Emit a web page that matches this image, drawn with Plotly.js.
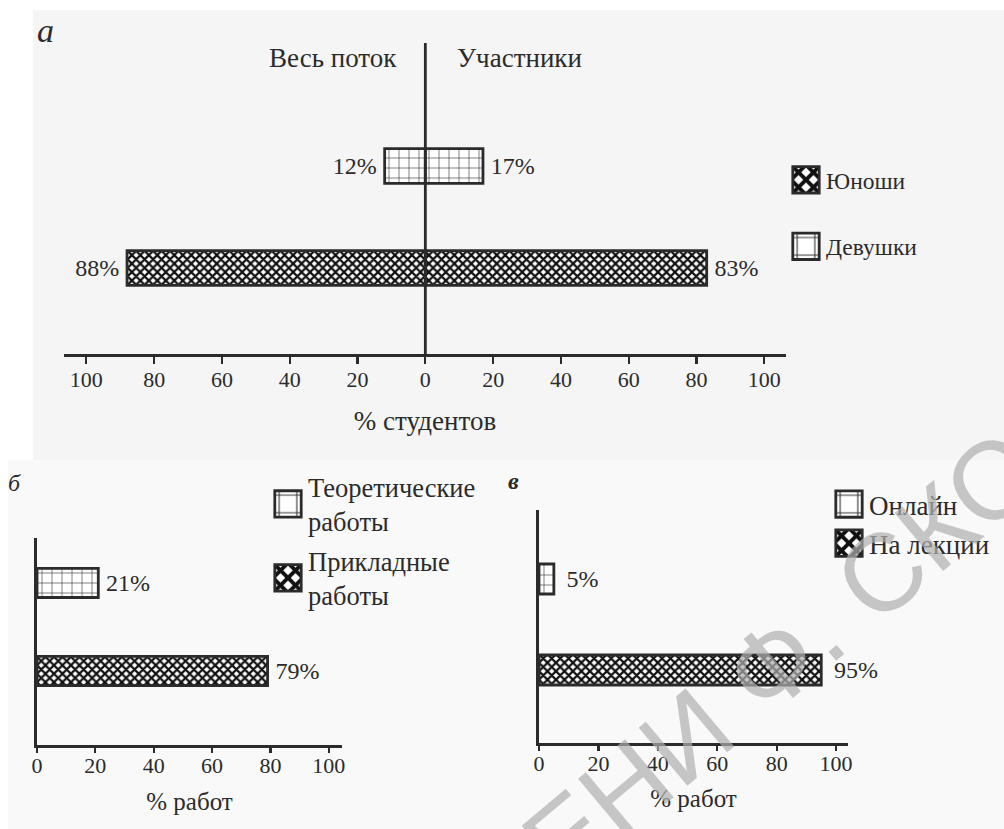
<!DOCTYPE html>
<html>
<head>
<meta charset="utf-8">
<script src="https://cdn.plot.ly/plotly-3.0.1.min.js"></script>
<style>html,body{margin:0;padding:0;background:#fff;}#chart{width:1004px;height:829px;}</style>
</head>
<body>
<div id="chart"></div>
<script>
// ---- Data ----
// Panel а: share of students by gender
const genders = ['Юноши', 'Девушки'];
const wholeStream = [88, 12];      // Весь поток
const participants = [83, 17];     // Участники
const tickValsA = [-100, -80, -60, -40, -20, 0, 20, 40, 60, 80, 100];
const tickTextA = ['100', '80', '60', '40', '20', '0', '20', '40', '60', '80', '100'];

// Panel б: share of works by type
const workTypes = ['Прикладные<br>работы', 'Теоретические<br>работы'];
const workShares = [79, 21];

// Panel в: share of works by format
const formats = ['На лекции', 'Онлайн'];
const formatShares = [95, 5];

const tickValsB = [0, 20, 40, 60, 80, 100];

// ---- Styles ----
const SERIF = '"Liberation Serif", "Times New Roman", serif';
const INK = '#2b2b2b';
const W = 1004, H = 829;
const px = v => v / W;
const py = v => 1 - v / H;
const PAD = '\u2009';

const densePattern = {shape: 'x', size: 6, solidity: 0.6, fgcolor: '#111', bgcolor: '#fff'};
const brickPattern = {shape: '+', size: 10, solidity: 0.12, fgcolor: '#333', bgcolor: '#fff'};
const patternFor = i => (i === 0 ? densePattern : brickPattern);

const traces = [];

// Panel а traces
genders.forEach((g, i) => {
  traces.push({
    type: 'bar', orientation: 'h',
    name: g, legendgroup: 'a' + i, legend: 'legend',
    x: [-wholeStream[i], participants[i]],
    y: [g, g],
    xaxis: 'x', yaxis: 'y',
    width: 0.34,
    text: [wholeStream[i] + '%' + PAD, PAD + participants[i] + '%'],
    textposition: 'outside', constraintext: 'none', cliponaxis: false,
    textfont: {family: SERIF, size: 24, color: INK},
    marker: {color: '#fff', pattern: patternFor(i), line: {color: INK, width: 2.8}},
    hoverinfo: 'skip'
  });
});

// Panel б traces (legend order: Теоретические first)
[1, 0].forEach(i => {
  traces.push({
    type: 'bar', orientation: 'h',
    name: workTypes[i], legendgroup: 'b' + i, legend: 'legend2',
    x: [workShares[i]], y: [workTypes[i]],
    xaxis: 'x2', yaxis: 'y2',
    width: 0.33,
    text: [PAD + workShares[i] + '%'],
    textposition: 'outside', constraintext: 'none', cliponaxis: false,
    textfont: {family: SERIF, size: 24, color: INK},
    marker: {color: '#fff', pattern: patternFor(i), line: {color: INK, width: 2.8}},
    hoverinfo: 'skip'
  });
});

// Panel в traces
[1, 0].forEach(i => {
  traces.push({
    type: 'bar', orientation: 'h',
    name: formats[i], legendgroup: 'c' + i, legend: 'legend3',
    x: [formatShares[i]], y: [formats[i]],
    xaxis: 'x3', yaxis: 'y3',
    width: 0.33,
    text: [PAD + PAD + formatShares[i] + '%'],
    textposition: 'outside', constraintext: 'none', cliponaxis: false,
    textfont: {family: SERIF, size: 24, color: INK},
    marker: {color: '#fff', pattern: patternFor(i), line: {color: INK, width: 2.8}},
    hoverinfo: 'skip'
  });
});

const xCommon = {
  showline: true, linewidth: 2.8, linecolor: INK,
  ticks: 'outside', ticklen: 6, tickwidth: 2.2, tickcolor: INK,
  tickfont: {family: SERIF, size: 22, color: INK},
  showgrid: false, zeroline: false, fixedrange: true
};

const layout = {
  width: W, height: H,
  margin: {l: 0, r: 0, t: 0, b: 0},
  paper_bgcolor: '#ffffff', plot_bgcolor: 'rgba(0,0,0,0)',
  barmode: 'overlay',
  font: {family: SERIF, color: INK},
  xaxis: Object.assign({}, xCommon, {
    domain: [px(64), px(786)], range: [-106.6, 106.4], anchor: 'y',
    tickvals: tickValsA, ticktext: tickTextA, ticklen: 7, ticklabelstandoff: -3,
    tickfont: {family: SERIF, size: 22, color: INK},
    title: {text: '% студентов', font: {family: SERIF, size: 27, color: INK}, standoff: 20}
  }),
  yaxis: {
    domain: [py(354), py(43)], range: [-0.843, 2.206], type: 'category',
    categoryarray: genders, visible: false, fixedrange: true
  },
  xaxis2: Object.assign({}, xCommon, {
    domain: [px(37), px(342)], range: [0, 104.5], anchor: 'y2',
    tickvals: tickValsB, ticklen: 5, ticklabelstandoff: -6,
    title: {text: '% работ', font: {family: SERIF, size: 25, color: INK}, standoff: 16}
  }),
  yaxis2: {
    domain: [py(745), py(538)], range: [-0.841, 1.511], type: 'category',
    categoryarray: workTypes, anchor: 'x2',
    showline: true, linewidth: 2.8, linecolor: INK, showticklabels: false,
    ticks: '', showgrid: false, zeroline: false, fixedrange: true
  },
  xaxis3: Object.assign({}, xCommon, {
    domain: [px(539), px(848)], range: [0, 104], anchor: 'y3',
    tickvals: tickValsB, ticklen: 5, ticklabelstandoff: -6,
    title: {text: '% работ', font: {family: SERIF, size: 25, color: INK}, standoff: 15}
  }),
  yaxis3: {
    domain: [py(743), py(510)], range: [-0.802, 1.758], type: 'category',
    categoryarray: formats, anchor: 'x3',
    showline: true, linewidth: 2.8, linecolor: INK, showticklabels: false,
    ticks: '', showgrid: false, zeroline: false, fixedrange: true
  },
  legend: {
    x: px(786), y: py(158), xanchor: 'left', yanchor: 'top',
    bgcolor: 'rgba(0,0,0,0)', traceorder: 'grouped', tracegroupgap: 33,
    font: {family: SERIF, size: 23.5, color: INK}
  },
  legend2: {
    x: px(268), y: py(463), xanchor: 'left', yanchor: 'top',
    bgcolor: 'rgba(0,0,0,0)', traceorder: 'grouped', tracegroupgap: 2,
    font: {family: SERIF, size: 26.5, color: INK}
  },
  legend3: {
    x: px(829), y: py(480), xanchor: 'left', yanchor: 'top',
    bgcolor: 'rgba(0,0,0,0)', traceorder: 'grouped', tracegroupgap: 1,
    font: {family: SERIF, size: 27, color: INK}
  },
  shapes: [
    {type: 'rect', xref: 'paper', yref: 'paper', x0: px(33), x1: 1, y0: py(460), y1: py(10),
     fillcolor: '#f5f5f5', line: {width: 0}, layer: 'below'},
    {type: 'rect', xref: 'paper', yref: 'paper', x0: px(8), x1: 1, y0: 0, y1: py(460),
     fillcolor: '#f9f9f9', line: {width: 0}, layer: 'below'},
    {type: 'line', xref: 'x', yref: 'y domain', x0: 0, x1: 0, y0: 0, y1: 1,
     line: {color: INK, width: 2.8}, layer: 'above'}
  ],
  annotations: [
    {text: '<i>а</i>', xref: 'paper', yref: 'paper', x: px(45), y: py(30), showarrow: false,
     xanchor: 'center', yanchor: 'middle', font: {family: SERIF, size: 34, color: INK}},
    {text: 'Весь поток', xref: 'paper', yref: 'paper', x: px(333), y: py(58), showarrow: false,
     xanchor: 'center', yanchor: 'middle', font: {family: SERIF, size: 27, color: INK}},
    {text: 'Участники', xref: 'paper', yref: 'paper', x: px(519), y: py(58), showarrow: false,
     xanchor: 'center', yanchor: 'middle', font: {family: SERIF, size: 27, color: INK}},
    {text: '<i>б</i>', xref: 'paper', yref: 'paper', x: px(14), y: py(483), showarrow: false,
     xanchor: 'center', yanchor: 'middle', font: {family: SERIF, size: 24, color: INK}},
    {text: '<i><b>в</b></i>', xref: 'paper', yref: 'paper', x: px(513), y: py(481), showarrow: false,
     xanchor: 'center', yanchor: 'middle', font: {family: SERIF, size: 24, color: INK}},
    {text: 'ИМЕНИ Ф. СКОРИНЫ', xref: 'paper', yref: 'paper', x: px(842), y: py(605),
     xanchor: 'center', yanchor: 'middle', textangle: -40, showarrow: false,
     font: {family: '"Liberation Sans", Arial, sans-serif', size: 110, color: 'rgba(175,175,175,0.7)'}}
  ]
};

Plotly.newPlot('chart', traces, layout, {staticPlot: true, displayModeBar: false}).then(gd => {
  // enlarge legend swatches to match the reference key boxes
  gd.querySelectorAll('.legendpoints path').forEach(p => {
    const t = p.getAttribute('transform') || '';
    p.setAttribute('transform', t + ' scale(2.2)');
    p.style.vectorEffect = 'non-scaling-stroke';
  });
});
</script>
</body>
</html>
